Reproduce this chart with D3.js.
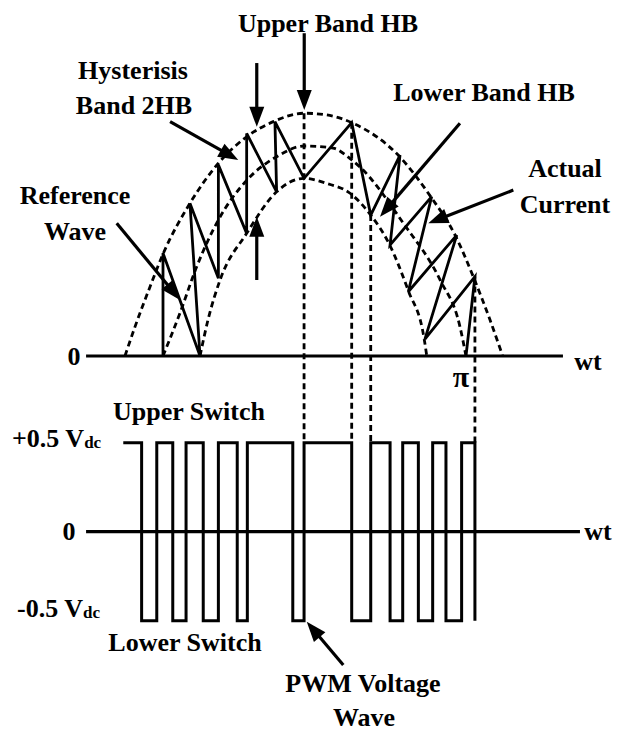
<!DOCTYPE html>
<html>
<head>
<meta charset="utf-8">
<script src="https://cdn.jsdelivr.net/npm/d3@7"></script>
<style>
  html, body { margin: 0; padding: 0; background: #fff; }
  svg text { font-family: "Liberation Serif", "Times New Roman", serif; font-weight: bold; fill: #000; }
</style>
</head>
<body>
<svg id="chart" width="621" height="734"></svg>
<script>
// ---------------- DATA (wt in degrees, current in p.u. of reference peak, voltage in Vdc) -------------
const upperBand = [[-22.6,0],[-16.6,0.14],[-7.7,0.33],[0.2,0.489],[16,0.727],[32.9,0.918],[49.7,1.044],[65.5,1.116],[83.8,1.156],[97.2,1.148],[112.1,1.111],[140.2,0.952],[159,0.759],[173.5,0.576],[184.8,0.368],[194.3,0.171],[201.8,0]];
const referenceWave = [[0,0],[10.1,0.205],[20,0.425],[32.9,0.648],[49.9,0.838],[67.5,0.949],[83.8,1.0],[101,0.99],[111.1,0.94],[117,0.9],[142.8,0.632],[164.6,0.362],[176.4,0.14],[180,0]];
const lowerBand = [[22,0],[26.7,0.171],[33.9,0.362],[49.7,0.584],[67.5,0.782],[83.8,0.846],[97.2,0.822],[111.1,0.775],[123.4,0.671],[134.4,0.533],[145.7,0.311],[155.1,0.084],[156.7,0]];
const actualCurrent = [[0,0],[0,0.49],[22,0],[16,0.727],[32.9,0.37],[32.9,0.91],[49.7,0.584],[49.7,1.06],[67.5,0.782],[66.5,1.116],[83.8,0.846],[112.1,1.111],[123.4,0.671],[140.8,0.957],[134.9,0.529],[159.6,0.759],[145.7,0.306],[174.5,0.576],[155.6,0.08],[185.3,0.378],[180,0]];
const pwmStart = -23.6;
const pwmStartLevel = 0.5;
const pwmEdges = [-12.7,-3.7,5.8,13.7,23.9,32.9,44.1,50.1,77.1,83.8,112.1,123.4,134.9,142.4,151.7,160.2,168.1,177.4,185.3];
const syncLines = [[83.8,1.156],[112.1,1.111],[123.4,0.671],[185.3,0.378]];
const topAxisRange = [-45.7, 237.6];
const bottomAxisRange = [-45.7, 247.7];
const topArrows = [
  [[-27.5,0.632],[10.1,0.267]],   // Reference Wave
  [[4.2,1.116],[44.7,0.933]],     // Hysterisis Band
  [[55.7,1.395],[55.7,1.092]],    // band down arrow
  [[55.7,0.362],[55.7,0.663]],    // band up arrow
  [[83.9,1.537],[83.9,1.171]],    // Upper Band HB
  [[176.4,1.108],[128.9,0.663]],  // Lower Band HB
  [[208.1,0.79],[157.6,0.632]]    // Actual Current
];
const bottomArrows = [ [[107.1,-0.749],[85.4,-0.506]] ]; // PWM Voltage Wave

// ---------------- SCALES ----------------
const svg = d3.select("#chart");
const x = d3.scaleLinear().domain([0, 180]).range([163, 466]);
const yTop = d3.scaleLinear().domain([0, 1]).range([356, 146]);
const yBot = d3.scaleLinear().domain([-0.5, 0.5]).range([620.7, 442.7]);

const lineTop = d3.line().x(d => x(d[0])).y(d => yTop(d[1]));
const curveTop = d3.line().x(d => x(d[0])).y(d => yTop(d[1])).curve(d3.curveMonotoneX);

// dashed band / reference arcs
[upperBand, referenceWave, lowerBand].forEach(arr => {
  svg.append("path").attr("d", curveTop(arr))
    .attr("fill", "none").attr("stroke", "#000").attr("stroke-width", 2.8)
    .attr("stroke-dasharray", "6,4");
});

// sync dashed verticals
svg.selectAll("line.sync").data(syncLines).enter().append("line")
  .attr("x1", d => x(d[0])).attr("x2", d => x(d[0]))
  .attr("y1", d => yTop(d[1])).attr("y2", yBot(0.5))
  .attr("stroke", "#000").attr("stroke-width", 2.8).attr("stroke-dasharray", "6,4");

// axes
svg.append("line").attr("x1", x(topAxisRange[0])).attr("x2", x(topAxisRange[1]))
  .attr("y1", yTop(0)).attr("y2", yTop(0)).attr("stroke", "#000").attr("stroke-width", 3.2);
svg.append("line").attr("x1", x(bottomAxisRange[0])).attr("x2", x(bottomAxisRange[1]))
  .attr("y1", yBot(0)).attr("y2", yBot(0)).attr("stroke", "#000").attr("stroke-width", 3.2);

// actual current zigzag
svg.append("path").attr("d", lineTop(actualCurrent))
  .attr("fill", "none").attr("stroke", "#000").attr("stroke-width", 2.8).attr("stroke-linejoin", "miter");

// PWM wave
const pwmPts = [[pwmStart, pwmStartLevel]];
let lvl = pwmStartLevel;
pwmEdges.forEach(e => { pwmPts.push([e, lvl]); lvl = -lvl; pwmPts.push([e, lvl]); });
svg.append("path").attr("d", d3.line().x(d => x(d[0])).y(d => yBot(d[1]))(pwmPts))
  .attr("fill", "none").attr("stroke", "#000").attr("stroke-width", 3).attr("stroke-linejoin", "miter");

// arrows
function arrow(x1, y1, x2, y2) {
  const L = 20, W = 7.5;
  const a = Math.atan2(y2 - y1, x2 - x1);
  const bx = x2 - L * Math.cos(a), by = y2 - L * Math.sin(a);
  svg.append("line").attr("x1", x1).attr("y1", y1).attr("x2", bx + 2 * Math.cos(a)).attr("y2", by + 2 * Math.sin(a))
    .attr("stroke", "#000").attr("stroke-width", 3.2);
  const p = [[x2, y2], [bx + W * Math.sin(a), by - W * Math.cos(a)], [bx - W * Math.sin(a), by + W * Math.cos(a)]];
  svg.append("polygon").attr("points", p.map(q => q.join(",")).join(" ")).attr("fill", "#000");
}
topArrows.forEach(d => arrow(x(d[0][0]), yTop(d[0][1]), x(d[1][0]), yTop(d[1][1])));
bottomArrows.forEach(d => arrow(x(d[0][0]), yBot(d[0][1]), x(d[1][0]), yBot(d[1][1])));

// labels
function label(t, px, py, size, anchor) {
  return svg.append("text").attr("x", px).attr("y", py).attr("font-size", size)
    .attr("text-anchor", anchor || "middle").text(t);
}
const F = 26;
label("Upper Band HB", 328, 32, F);
label("Hysterisis", 133, 79, F);
label("Band 2HB", 134, 114, F);
label("Reference", 75, 204, F);
label("Wave", 75, 240, F);
label("Lower Band HB", 484, 101, F);
label("Actual", 565, 177, F);
label("Current", 565, 213, F);
label("0", 74, 365, F);
label("wt", 588, 370, F);
label("π", 461, 387, 30);
label("Upper Switch", 189, 420, F);
label("0", 69, 540, F);
label("wt", 598, 540, F);
label("Lower Switch", 185, 651, F);
label("PWM Voltage", 363, 692, F);
label("Wave", 364, 726, F);
const vp = label("+0.5 V", 12, 447, F, "start");
vp.append("tspan").attr("font-size", 17).attr("dy", 1).text("dc");
const vn = label("-0.5 V", 17, 617, F, "start");
vn.append("tspan").attr("font-size", 17).attr("dy", 1).text("dc");
</script>
</body>
</html>
